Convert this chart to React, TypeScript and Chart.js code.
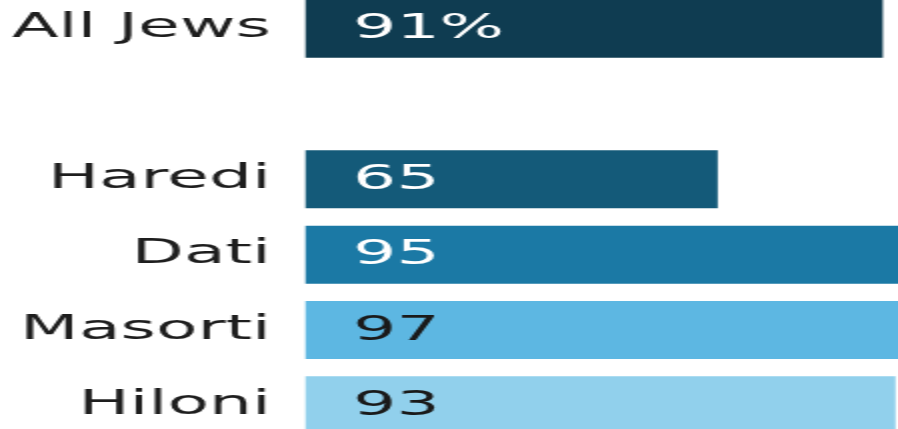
import React, { useEffect, useRef } from "react";
import { Chart, registerables } from "chart.js";

Chart.register(...registerables);

const categories = ["All Jews", "", "Haredi", "Dati", "Masorti", "Hiloni"];
const values = [91, null, 65, 95, 97, 93];
const valueLabels = ["91%", "", "65", "95", "97", "93"];
const barColors = ["#0f3c51", "rgba(0,0,0,0)", "#145a79", "#1b79a5", "#5db7e2", "#91d0ec"];
const labelColors = ["#ffffff", "#ffffff", "#ffffff", "#ffffff", "#1a1a1a", "#1a1a1a"];

const FONT = "'DejaVu Sans', Verdana, sans-serif";

const valueLabelPlugin = {
  id: "valueLabels",
  afterDatasetsDraw(chart: any) {
    const ctx = chart.ctx;
    const meta = chart.getDatasetMeta(0);
    ctx.save();
    ctx.font = `34px ${FONT}`;
    ctx.textAlign = "left";
    ctx.textBaseline = "middle";
    meta.data.forEach((bar: any, i: number) => {
      const t = valueLabels[i];
      if (!t) return;
      ctx.fillStyle = labelColors[i];
      ctx.fillText(t, bar.base + 24, bar.y + 1);
    });
    ctx.restore();
  },
};

export default function App() {
  const ref = useRef<HTMLCanvasElement | null>(null);

  useEffect(() => {
    const prevMargin = document.body.style.margin;
    document.body.style.margin = "0";
    const canvas = ref.current;
    if (!canvas) return;
    const chart = new Chart(canvas, {
      type: "bar",
      data: {
        labels: categories,
        datasets: [
          {
            data: values as any,
            backgroundColor: barColors,
            borderWidth: 0,
            barPercentage: 0.77,
            categoryPercentage: 1,
          },
        ],
      },
      options: {
        indexAxis: "y",
        responsive: false,
        animation: false,
        devicePixelRatio: 1,
        layout: { padding: 0 },
        plugins: {
          legend: { display: false },
          tooltip: { enabled: false },
          title: { display: false },
        },
        scales: {
          x: {
            display: false,
            min: 0,
            max: 100,
          },
          y: {
            grid: { display: false, drawTicks: false },
            border: { display: false },
            ticks: {
              autoSkip: false,
              padding: 17,
              color: "#1e1e1e",
              font: { family: FONT, size: 34 },
            },
            afterFit: (s: any) => {
              s.width = 152.5;
              s.paddingTop = 0;
              s.paddingBottom = 0;
            },
          },
        },
      },
      plugins: [valueLabelPlugin],
    });
    return () => {
      chart.destroy();
      document.body.style.margin = prevMargin;
    };
  }, []);

  return (
    <div style={{ width: 898, height: 429, overflow: "hidden", position: "relative", background: "#fff" }}>
      <div
        style={{
          position: "absolute",
          left: 0,
          top: -8.67,
          width: 470,
          height: 452,
          transform: "scaleX(2)",
          transformOrigin: "0 0",
        }}
      >
        <canvas ref={ref} width={470} height={452} style={{ display: "block", width: 470, height: 452 }} />
      </div>
    </div>
  );
}
